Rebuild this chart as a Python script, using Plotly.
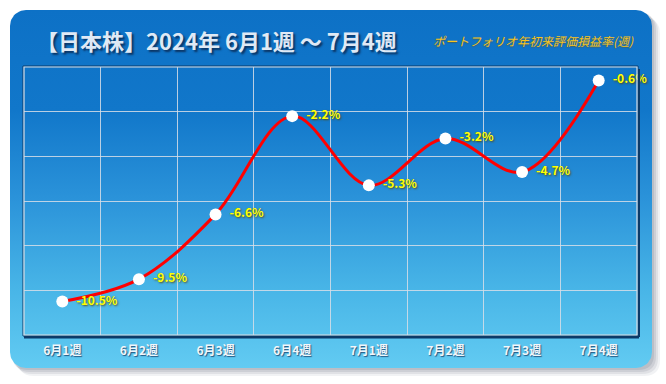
import numpy as np
import plotly.graph_objects as go

# ---- data ----
categories = ["6月1週", "6月2週", "6月3週", "6月4週", "7月1週", "7月2週", "7月3週", "7月4週"]
values = [-10.5, -9.5, -6.6, -2.2, -5.3, -3.2, -4.7, -0.6]
labels = [f"\u00a0\u00a0{v:.1f}%" for v in values]

title_text = "【日本株】2024年 6月1週 ～ 7月4週"
subtitle_text = "ポートフォリオ年初来評価損益率(週)"

W, H = 666, 384
CARD = (10, 10, 652, 368)
PLOT = (24, 67, 637, 335)
FONT = "Noto Sans CJK JP"


def rounded_poly(x0, y0, x1, y1, r, n=16):
    xs, ys = [], []
    corners = [
        (x1 - r, y0 + r, -np.pi / 2, 0),
        (x1 - r, y1 - r, 0, np.pi / 2),
        (x0 + r, y1 - r, np.pi / 2, np.pi),
        (x0 + r, y0 + r, np.pi, 1.5 * np.pi),
    ]
    for cx, cy, a0, a1 in corners:
        t = np.linspace(a0, a1, n)
        xs.extend(cx + r * np.cos(t))
        ys.extend(cy + r * np.sin(t))
    xs.append(xs[0])
    ys.append(ys[0])
    return xs, ys


def rounded_path(x0, y0, x1, y1, r):
    return (f"M{x0+r},{y0} L{x1-r},{y0} Q{x1},{y0} {x1},{y0+r} "
            f"L{x1},{y1-r} Q{x1},{y1} {x1-r},{y1} L{x0+r},{y1} "
            f"Q{x0},{y1} {x0},{y1-r} L{x0},{y0+r} Q{x0},{y0} {x0+r},{y0} Z")


fig = go.Figure()

# card background with vertical gradient (on full-page helper axes)
cx, cy = rounded_poly(*CARD, 16)
fig.add_trace(go.Scatter(
    x=cx, y=cy, mode="lines", line=dict(width=0), fill="toself",
    fillgradient=dict(
        type="vertical", start=10, stop=368,
        colorscale=[[0.0, "#0d71c6"], [0.28, "#1177ca"], [0.52, "#2a92d9"],
                    [0.78, "#48b5e7"], [1.0, "#62cbf2"]],
    ),
    hoverinfo="skip", showlegend=False, xaxis="x", yaxis="y",
))

# data line
fig.add_trace(go.Scatter(
    x=categories, y=values, mode="lines+markers+text",
    line=dict(color="#ff0000", width=3, shape="spline", smoothing=1.0),
    marker=dict(size=12, color="white", line=dict(width=0)),
    text=labels, textposition="middle right",
    textfont=dict(family=FONT, size=12, color="#ffff00", weight="bold",
                  shadow="1px 1px 2px rgba(90,70,0,0.9)"),
    cliponaxis=False, showlegend=False, xaxis="x2", yaxis="y2",
))

shapes = []
# card shadow
for i, op in enumerate([0.10, 0.14, 0.18, 0.22]):
    d = 8 - 2 * i
    shapes.append(dict(type="path", xref="x", yref="y", layer="below",
                       path=rounded_path(CARD[0] + d, CARD[1] + d, CARD[2] + d, CARD[3] + d, 16),
                       fillcolor=f"rgba(120,130,145,{op})", line=dict(width=0)))
# plot frame: dark outline, dark shadow right/bottom, light inner line
px0, py0, px1, py1 = PLOT
shapes.append(dict(type="rect", xref="x", yref="y", layer="above",
                   x0=px0 - 1, y0=py0 - 1, x1=px1 + 1, y1=py1 + 1,
                   line=dict(color="#0b3a68", width=1)))
shapes.append(dict(type="line", xref="x", yref="y", layer="above",
                   x0=px0, y0=py1 + 2, x1=px1 + 2, y1=py1 + 2,
                   line=dict(color="#0b3a68", width=3)))
shapes.append(dict(type="line", xref="x", yref="y", layer="above",
                   x0=px1 + 2, y0=py0 + 2, x1=px1 + 2, y1=py1 + 2,
                   line=dict(color="#0b3a68", width=2)))
shapes.append(dict(type="rect", xref="x", yref="y", layer="above",
                   x0=px0, y0=py0, x1=px1, y1=py1,
                   line=dict(color="#d8dde4", width=1.2)))

annotations = [
    dict(text=title_text, xref="x", yref="y", x=34, y=40, xanchor="left", yanchor="middle",
         showarrow=False,
         font=dict(family=FONT, size=22, color="#dfe9f5", weight="bold",
                   shadow="2px 2px 2px rgba(10,40,80,0.85)")),
    dict(text=subtitle_text, xref="x", yref="y", x=533, y=40, xanchor="center", yanchor="middle",
         showarrow=False,
         font=dict(family=FONT, size=12, color="#f6c41c", style="italic",
                   shadow="0px 1px 1px rgba(120,80,0,0.5)")),
]

fig.update_layout(
    width=W, height=H,
    margin=dict(l=0, r=0, t=0, b=0, pad=0),
    paper_bgcolor="white", plot_bgcolor="rgba(0,0,0,0)",
    showlegend=False,
    xaxis=dict(domain=[0, 1], range=[0, W], visible=False, fixedrange=True, anchor="y"),
    yaxis=dict(domain=[0, 1], range=[H, 0], visible=False, fixedrange=True, anchor="x"),
    xaxis2=dict(domain=[PLOT[0] / W, PLOT[2] / W], anchor="y2", type="category",
                categoryorder="array", categoryarray=categories,
                range=[-0.5, len(categories) - 0.5], tickson="boundaries",
                showgrid=True, gridcolor="rgba(215,222,232,0.85)", gridwidth=1,
                zeroline=False, showline=False, ticks="", ticklabelstandoff=7,
                tickfont=dict(family=FONT, size=12, color="#f2f6fa", weight="bold",
                              shadow="1px 1px 1px rgba(20,60,100,0.8)"),
                fixedrange=True),
    yaxis2=dict(domain=[1 - PLOT[3] / H, 1 - PLOT[1] / H], anchor="x2",
                range=[-12, 0], dtick=2, tick0=0, showgrid=True,
                gridcolor="rgba(215,222,232,0.85)", gridwidth=1,
                zeroline=False, showticklabels=False, ticks="", fixedrange=True),
    shapes=shapes,
    annotations=annotations,
)

fig.write_html("out.html", config={"displayModeBar": False},
               post_script="document.body.style.margin='0px';")
